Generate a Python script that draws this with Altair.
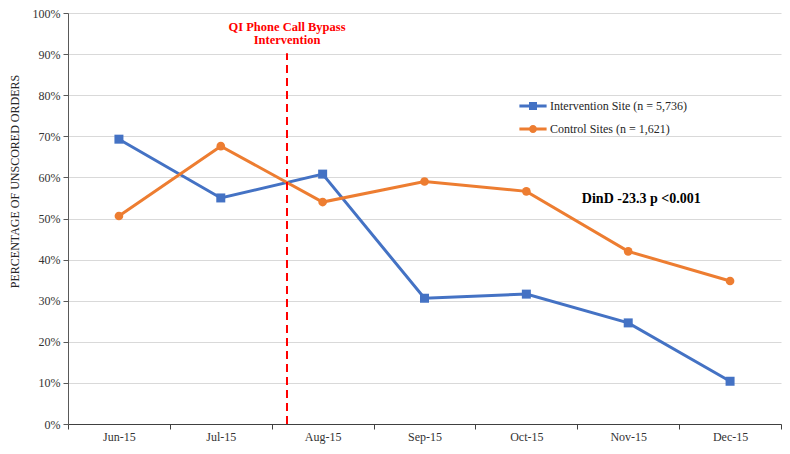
import altair as alt
import pandas as pd

months = ["Jun-15", "Jul-15", "Aug-15", "Sep-15", "Oct-15", "Nov-15", "Dec-15"]
intervention = [69.3, 55.0, 60.8, 30.6, 31.6, 24.6, 10.4]
control = [50.6, 67.6, 54.0, 59.0, 56.6, 42.0, 34.8]
series_names = ["Intervention Site (n = 5,736)", "Control Sites (n = 1,621)"]
series_colors = ["#4472C4", "#ED7D31"]
y_ticks = list(range(0, 101, 10))

annot_lines = ["QI Phone Call Bypass", "Intervention"]
annot_y = [96.6, 93.4]
intervention_month = "Aug-15"
rule_top = 90.2
dind_text = "DinD -23.3 p <0.001"
dind_month = "Nov-15"
dind_y = 54.7

FONT = "Liberation Serif"

rows = []
for m, v in zip(months, intervention):
    rows.append({"month": m, "series": series_names[0], "value": v})
for m, v in zip(months, control):
    rows.append({"month": m, "series": series_names[1], "value": v})
df = pd.DataFrame(rows)

PLOT_H = 411

x_scale = alt.Scale(type="band", domain=months, paddingInner=0, paddingOuter=0)
y_scale = alt.Scale(domain=[0, 100], nice=False)

x_enc = alt.X(
    "month:N",
    scale=x_scale,
    sort=months,
    title=None,
    axis=alt.Axis(
        tickBand="extent",
        labelAngle=0,
        labelFont=FONT,
        labelFontSize=12,
        labelColor="#333333",
        labelPadding=2,
        domainColor="#404040",
        tickColor="#404040",
        tickSize=5,
        grid=False,
    ),
)
y_enc = alt.Y(
    "value:Q",
    scale=y_scale,
    title="PERCENTAGE OF UNSCORED ORDERS",
    axis=alt.Axis(
        values=y_ticks,
        labelExpr="datum.value + '%'",
        labelFont=FONT,
        labelFontSize=12,
        labelColor="#333333",
        labelPadding=3,
        domainColor="#595959",
        tickColor="#595959",
        tickSize=5,
        gridColor="#D9D9D9",
        titleFont=FONT,
        titleFontSize=12,
        titleFontWeight="normal",
        titleColor="#262626",
        titleX=-47,
        titleY=168,
    ),
)

base = alt.Chart(df)

layers = []
for name, col in zip(series_names, series_colors):
    sub = base.transform_filter(alt.datum.series == name)
    layers.append(
        sub.mark_line(strokeWidth=3, color=col).encode(x=x_enc, y=y_enc)
    )
for name, col, shp, sz in zip(series_names, series_colors, ["square", "circle"], [81, 75]):
    sub = base.transform_filter(alt.datum.series == name)
    layers.append(
        sub.mark_point(shape=shp, filled=True, size=sz, opacity=1, color=col).encode(
            x="month:N", y="value:Q"
        )
    )

# dashed intervention line
rule_df = pd.DataFrame({"month": [intervention_month], "y0": [0], "y1": [rule_top]})
layers.append(
    alt.Chart(rule_df)
    .mark_rule(color="#FF0000", strokeWidth=2, strokeDash=[8, 5])
    .encode(
        x=alt.X("month:N", bandPosition=0.15),
        y="y0:Q",
        y2="y1:Q",
    )
)

annot_df = pd.DataFrame(
    {"month": [intervention_month] * 2, "label": annot_lines, "y": annot_y}
)
layers.append(
    alt.Chart(annot_df)
    .mark_text(color="#FF0000", font=FONT, fontSize=12.5, fontWeight="bold", align="center", baseline="middle")
    .encode(x=alt.X("month:N", bandPosition=0.15), y="y:Q", text="label:N")
)

dind_df = pd.DataFrame({"month": [dind_month], "label": [dind_text], "y": [dind_y]})
layers.append(
    alt.Chart(dind_df)
    .mark_text(color="#000000", font=FONT, fontSize=14, fontWeight="bold", align="left", baseline="middle")
    .encode(x=alt.X("month:N", bandPosition=0.045), y="y:Q", text="label:N")
)

# legend-only layer (no visible marks)
path_sq = "M-3.4,-0.375H3.4V0.375H-3.4Z M-1,-1H1V1H-1Z"
path_ci = "M-3.4,-0.375H3.4V0.375H-3.4Z M-1,0A1,1 0 1,1 1,0A1,1 0 1,1 -1,0Z"
leg = alt.Legend(
    title=None,
    orient="none",
    legendX=459,
    legendY=87,
    labelFont=FONT,
    labelFontSize=12,
    labelColor="#262626",
    labelOffset=11,
    symbolSize=64,
    symbolStrokeWidth=0,
    rowPadding=11,
    padding=0,
)
layers.append(
    base.transform_filter("false")
    .mark_point(filled=True, opacity=1)
    .encode(
        color=alt.Color("series:N", scale=alt.Scale(domain=series_names, range=series_colors), legend=leg),
        shape=alt.Shape("series:N", scale=alt.Scale(domain=series_names, range=[path_sq, path_ci]), legend=leg),
    )
)

chart = (
    alt.layer(*layers)
    .properties(
        width=713,
        height=PLOT_H,
        autosize=alt.AutoSizeParams(type="none"),
        padding={"left": 60, "top": 5, "right": 1, "bottom": 22},
    )
    .configure_view(stroke=None)
)

chart.save("out.html", embed_options={"renderer": "svg", "actions": False})
